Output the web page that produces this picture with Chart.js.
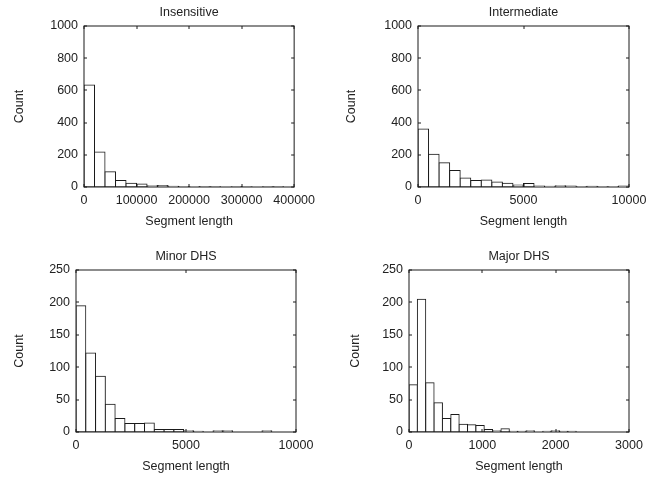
<!DOCTYPE html>
<html>
<head>
<meta charset="utf-8">
<script src="https://cdn.jsdelivr.net/npm/chart.js@4.4.0/dist/chart.umd.min.js"></script>
<style>
  html, body { margin: 0; padding: 0; background: #fff; }
  body { width: 653px; height: 478px; position: relative; overflow: hidden; }
  canvas { position: absolute; }
</style>
</head>
<body>
<canvas id="insensitive" width="309" height="224" style="left:12px;top:5px"></canvas>
<canvas id="intermediate" width="309" height="224" style="left:344px;top:5px"></canvas>
<canvas id="minor" width="309" height="225" style="left:12px;top:249px"></canvas>
<canvas id="major" width="305" height="225" style="left:348px;top:249px"></canvas>
<script>
// histogram bin centres (segment length) and counts
const insCenters = [10000, 30000, 50000, 70000, 90000, 110000, 130000, 150000, 170000, 190000,
                    210000, 230000, 250000, 270000, 290000, 310000, 330000, 350000, 370000, 390000];
const insCounts = [634, 217, 95, 41, 23, 18, 8, 10, 4, 3, 2, 1, 1, 0, 1, 1, 0, 1, 1, 0];

const intCenters = [250, 750, 1250, 1750, 2250, 2750, 3250, 3750, 4250, 4750,
                    5250, 5750, 6250, 6750, 7250, 7750, 8250, 8750, 9250, 9750];
const intCounts = [360, 204, 150, 103, 56, 41, 43, 31, 23, 12, 21, 6, 5, 8, 6, 2, 4, 2, 2, 6];

const minorCenters = [222, 667, 1112, 1557, 2002, 2447, 2892, 3337, 3782, 4227,
                      4672, 5117, 5562, 6007, 6452, 6897, 7342, 7787, 8232, 8677];
const minorCounts = [195, 122, 86, 43, 21, 13, 13, 14, 4, 4, 4, 2, 1, 0, 2, 2, 0, 0, 0, 2];

const majorCenters = [57, 171, 285, 399, 513, 627, 741, 855, 969, 1083,
                      1197, 1311, 1425, 1539, 1653, 1767, 1881, 1995, 2109, 2223];
const majorCounts = [73, 205, 76, 45, 21, 27, 12, 11, 10, 4, 2, 5, 1, 1, 2, 0, 1, 2, 1, 1];

const xTitle = 'Segment length';
const yTitle = 'Count';

const INK = '#1a1a1a';
const FONT = { family: '"Liberation Sans", Arial, Helvetica, sans-serif', size: 12.5, lineHeight: 1.2 };

// matlab style box with inward ticks on all four sides
const frameTicks = {
    id: 'frameTicks',
    afterDraw(chart) {
        const { ctx, chartArea: a } = chart;
        const x = chart.scales.x, y = chart.scales.y;
        ctx.save();
        ctx.strokeStyle = INK;
        ctx.lineWidth = 1;
        ctx.strokeRect(a.left, a.top, a.right - a.left, a.bottom - a.top);
        ctx.beginPath();
        x.ticks.forEach(t => {
            const px = Math.round(x.getPixelForValue(t.value));
            ctx.moveTo(px, a.bottom); ctx.lineTo(px, a.bottom - 3);
            ctx.moveTo(px, a.top); ctx.lineTo(px, a.top + 3);
        });
        y.ticks.forEach(t => {
            const py = Math.round(y.getPixelForValue(t.value));
            ctx.moveTo(a.left, py); ctx.lineTo(a.left + 3, py);
            ctx.moveTo(a.right, py); ctx.lineTo(a.right - 3, py);
        });
        ctx.stroke();
        ctx.restore();
    }
};

function histPanel(id, title, centers, counts, xMax, xStep, yMax, yStep, yWidth, rightPad) {
    const ctx = document.getElementById(id).getContext('2d');
    return new Chart(ctx, {
        type: 'bar',
        data: {
            datasets: [{
                data: centers.map((c, i) => ({ x: c, y: counts[i] })),
                backgroundColor: '#ffffff',
                borderColor: INK,
                borderWidth: 1,
                borderSkipped: false,
                inflateAmount: 0.5,
                barPercentage: 1,
                categoryPercentage: 1
            }]
        },
        options: {
            responsive: false,
            animation: false,
            layout: { padding: { left: 0, right: rightPad, top: 0, bottom: 0 } },
            plugins: {
                legend: { display: false },
                tooltip: { enabled: false },
                title: {
                    display: true,
                    fullSize: false,
                    text: title,
                    color: '#222',
                    font: { ...FONT, weight: 'normal' },
                    padding: { top: 0, bottom: 6 }
                }
            },
            scales: {
                x: {
                    type: 'linear',
                    min: 0,
                    max: xMax,
                    offset: false,
                    grid: { display: false, drawTicks: false },
                    border: { display: false },
                    ticks: {
                        stepSize: xStep,
                        padding: 6,
                        color: '#222',
                        font: FONT,
                        maxRotation: 0,
                        callback: v => String(v)
                    },
                    title: { display: true, text: xTitle, color: '#222', font: FONT, padding: 0 },
                    afterFit: s => { s.height = 42; }
                },
                y: {
                    min: 0,
                    max: yMax,
                    grid: { display: false, drawTicks: false },
                    border: { display: false },
                    ticks: {
                        stepSize: yStep,
                        padding: 6,
                        color: '#222',
                        font: FONT,
                        callback: v => String(v)
                    },
                    title: { display: true, text: yTitle, color: '#222', font: FONT, padding: 0 },
                    afterFit: s => { s.width = yWidth; }
                }
            }
        },
        plugins: [frameTicks]
    });
}

histPanel('insensitive', 'Insensitive', insCenters, insCounts, 400000, 100000, 1000, 200, 72, 25);
histPanel('intermediate', 'Intermediate', intCenters, intCounts, 10000, 5000, 1000, 200, 74, 24);
histPanel('minor', 'Minor DHS', minorCenters, minorCounts, 10000, 5000, 250, 50, 64, 25);
histPanel('major', 'Major DHS', majorCenters, majorCounts, 3000, 1000, 250, 50, 61, 24);
</script>
</body>
</html>
